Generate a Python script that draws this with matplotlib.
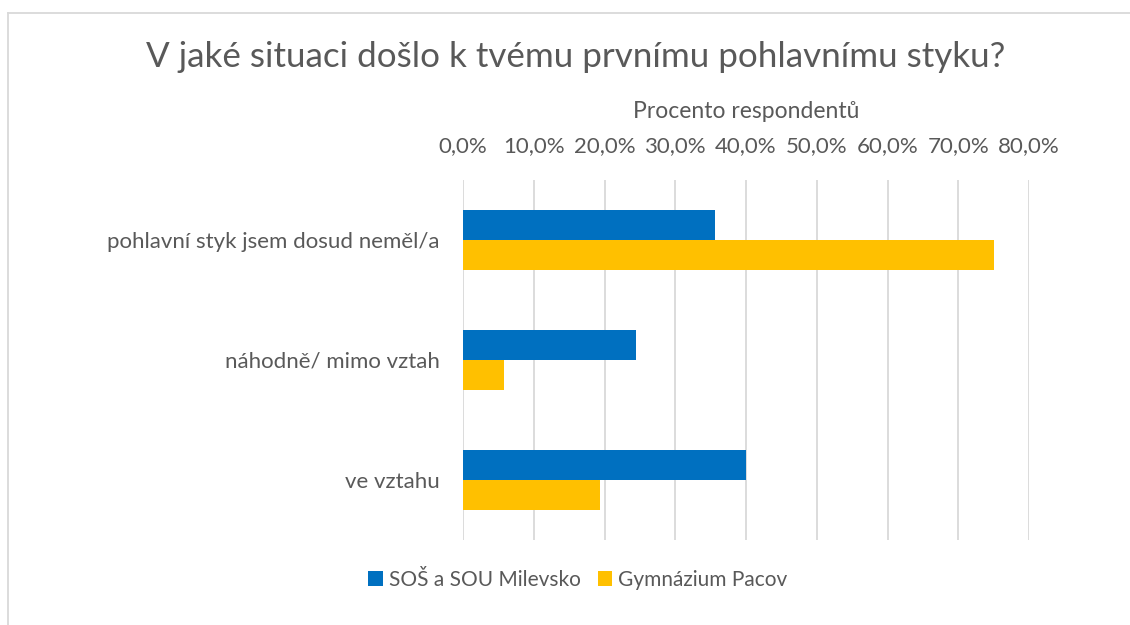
import matplotlib.pyplot as plt
import numpy as np
from matplotlib.ticker import FuncFormatter
from matplotlib.lines import Line2D
from matplotlib.patches import Patch

plt.rcParams['font.family'] = ['Lato', 'DejaVu Sans']

categories = ["pohlavní styk jsem dosud neměl/a", "náhodně/ mimo vztah", "ve vztahu"]
series_names = ["SOŠ a SOU Milevsko", "Gymnázium Pacov"]
milevsko = [35.6, 24.4, 40.0]
pacov = [75.0, 5.8, 19.3]
colors = ["#0070C0", "#FFC000"]

W, H = 1130, 625
fig = plt.figure(figsize=(W / 100, H / 100), dpi=100)

# plot area in pixels: x 463..1029, y 180..540
ax = fig.add_axes([463 / W, 1 - 540 / H, 566 / W, 360 / H])

y = np.arange(len(categories))
bar_h = 0.25
ax.barh(y - bar_h / 2, milevsko, height=bar_h, color=colors[0], label=series_names[0], zorder=3)
ax.barh(y + bar_h / 2, pacov, height=bar_h, color=colors[1], label=series_names[1], zorder=3)

ax.set_ylim(len(categories) - 0.5, -0.5)
ax.set_xlim(0, 80)
ax.set_xticks(np.arange(0, 81, 10))
ax.xaxis.set_major_formatter(FuncFormatter(lambda v, p: f"{v:.1f}%".replace('.', ',')))
ax.xaxis.tick_top()
ax.xaxis.set_label_position('top')
ax.set_yticks(y)
ax.set_yticklabels(categories)
ax.tick_params(axis='both', length=0, labelsize=16, labelcolor='#595959')
ax.tick_params(axis='x', pad=17)
ax.tick_params(axis='y', pad=17)
ax.set_xlabel("Procento respondentů", fontsize=16.5, color='#595959', labelpad=13)
ax.grid(axis='x', color='#D9D9D9', linewidth=1.3, zorder=0)
for s in ax.spines.values():
    s.set_visible(False)

fig.text(576 / W, 1 - 57 / H, "V jaké situaci došlo k tvému prvnímu pohlavnímu styku?",
         fontsize=25.2, color='#595959', ha='center', va='center')

handles = [Patch(facecolor=c, edgecolor='none') for c in colors]
fig.legend(handles, series_names, loc='center', bbox_to_anchor=(578 / W, 1 - 580 / H),
           ncol=2, frameon=False, fontsize=15, labelcolor='#595959',
           handlelength=0.7, handleheight=0.7, handletextpad=0.3, columnspacing=0.8)

# outer chart border (left and top edges visible)
fig.add_artist(Line2D([8 / W, 8 / W], [0, 1 - 12.5 / H], color='#D9D9D9', linewidth=1.3))
fig.add_artist(Line2D([8 / W, 1], [1 - 12.5 / H, 1 - 12.5 / H], color='#D9D9D9', linewidth=1.3))

fig.savefig("out.png", dpi=100)
